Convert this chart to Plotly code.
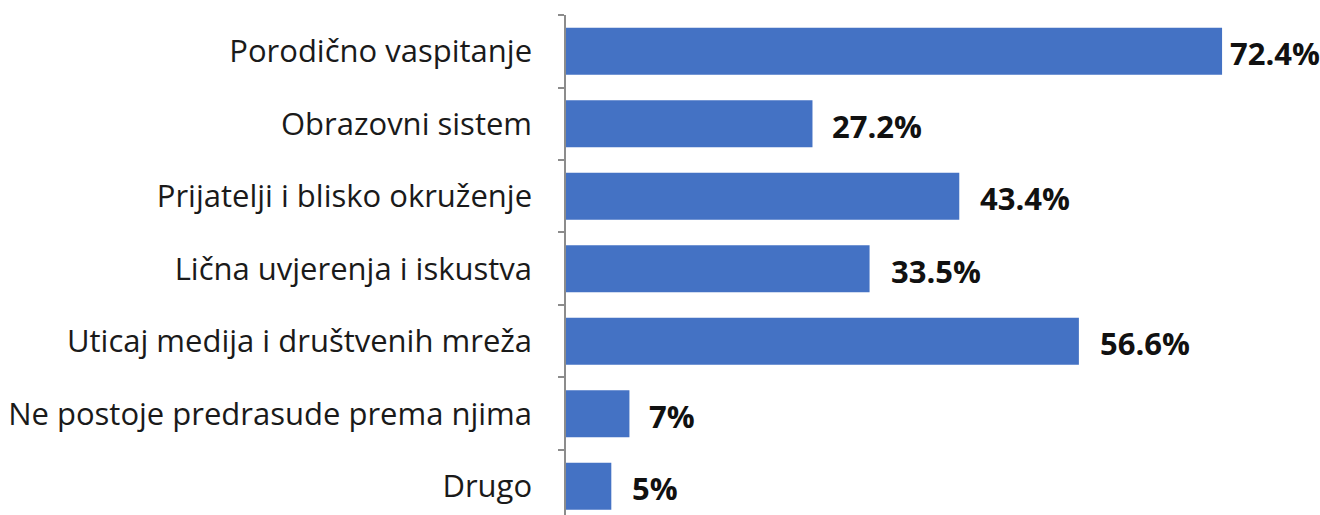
import plotly.graph_objects as go

categories = [
    "Porodično vaspitanje",
    "Obrazovni sistem",
    "Prijatelji i blisko okruženje",
    "Lična uvjerenja i iskustva",
    "Uticaj medija i društvenih mreža",
    "Ne postoje predrasude prema njima",
    "Drugo",
]
values = [72.4, 27.2, 43.4, 33.5, 56.6, 7, 5]
value_labels = ["72.4%", "27.2%", "43.4%", "33.5%", "56.6%", "7%", "5%"]
# horizontal offset (px) of each value label from its bar end
label_offsets = [6, 18, 19, 19, 19, 18, 19]

fig = go.Figure(
    go.Bar(
        x=values,
        y=categories,
        orientation="h",
        marker=dict(color="#4472C4", line=dict(width=0)),
        width=0.65,
        hoverinfo="x+y",
    )
)

for cat, val, lab, off in zip(categories, values, value_labels, label_offsets):
    fig.add_annotation(
        x=val,
        y=cat,
        text=lab,
        xanchor="left",
        yanchor="middle",
        xshift=off,
        yshift=-2,
        showarrow=False,
        font=dict(family="Open Sans", size=31, color="#111111", weight="bold"),
    )

fig.update_layout(
    width=1320,
    height=515,
    margin=dict(l=566, r=20, t=15, b=0),
    paper_bgcolor="white",
    plot_bgcolor="white",
    showlegend=False,
    font=dict(family="Open Sans", color="#1a1a1a"),
)

fig.update_xaxes(
    range=[0, 81.0],
    visible=False,
    showgrid=False,
    zeroline=False,
)

fig.update_yaxes(
    type="category",
    categoryorder="array",
    categoryarray=categories,
    range=[6.397, -0.5],
    showline=True,
    linecolor="#8c8c8c",
    linewidth=1.5,
    ticks="outside",
    tickson="boundaries",
    ticklen=6,
    tickcolor="#8c8c8c",
    tickwidth=1.5,
    tickfont=dict(family="Open Sans", size=31, color="#1a1a1a"),
    ticklabelstandoff=26,
    showgrid=False,
    zeroline=False,
)

fig.write_html("out.html")
